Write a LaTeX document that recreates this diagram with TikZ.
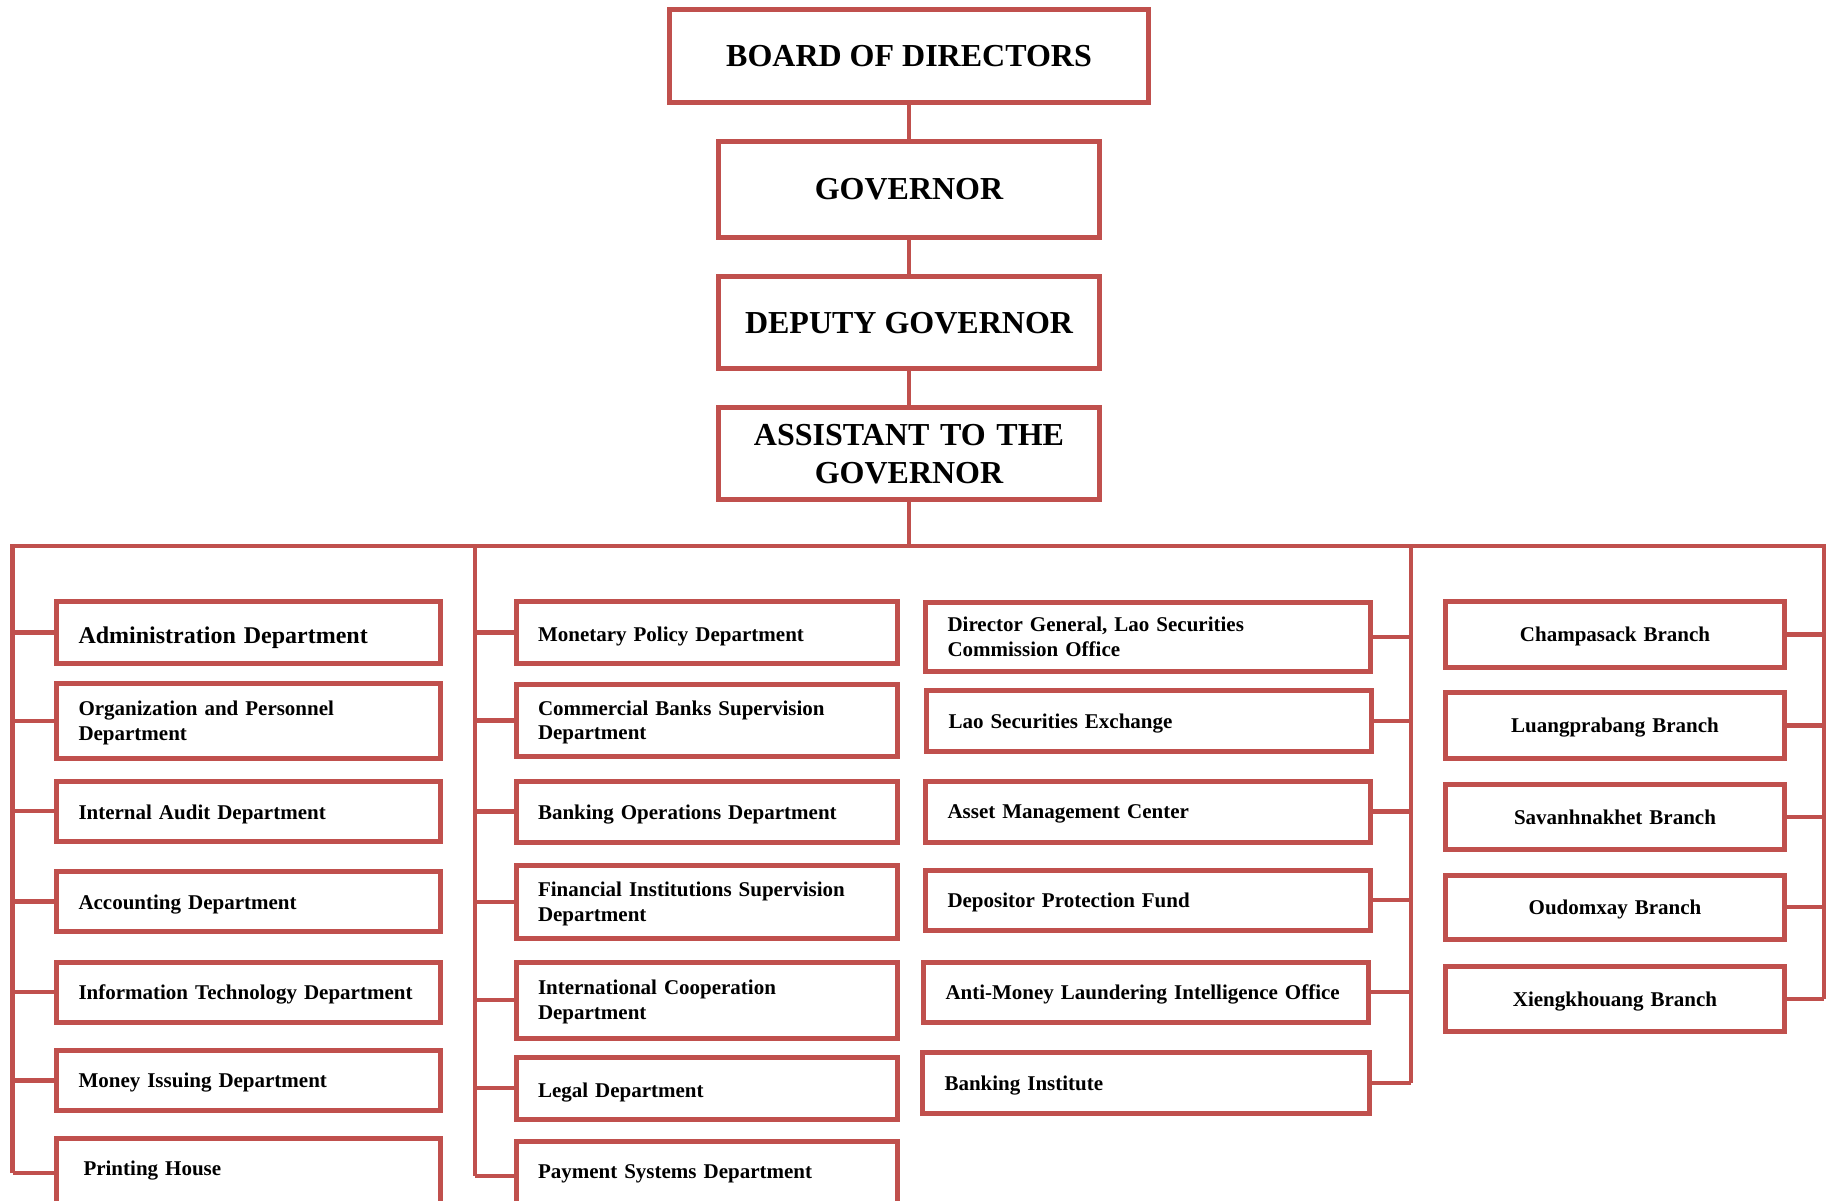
\documentclass[tikz,border=0pt]{standalone}
\usepackage{fontspec}
\setmainfont{Liberation Serif}
\definecolor{bred}{RGB}{192,80,77}
\begin{document}
\begin{tikzpicture}[x=1pt,y=-1pt,
  conn/.style={draw=bred,line width=4.5pt,line join=miter},
  hbox/.style={draw=bred,line width=5pt,fill=white,inner xsep=10pt,inner ysep=0pt,
    align=center,font=\bfseries\fontsize{32}{38}\selectfont,text height=21pt,text depth=0pt},
  lbox/.style={draw=bred,line width=5pt,fill=white,inner xsep=22pt,inner ysep=0pt,
    align=left,font=\bfseries\fontsize{21}{24.5}\selectfont,text height=14pt,text depth=0pt},
  two/.style={text depth=24.5pt},
  cbox/.style={lbox,align=center}
]
\useasboundingbox (0,0) rectangle (1833,1201);
\clip (0,0) rectangle (1833,1201);
\fill[white] (0,0) rectangle (1833,1201);

% top chain
\node[hbox,minimum width=479pt,minimum height=93pt] (board) at (909,56) {BOARD OF DIRECTORS};
\node[hbox,minimum width=381pt,minimum height=96pt] (gov) at (909,189.5) {GOVERNOR};
\node[hbox,minimum width=381pt,minimum height=92pt] (dep) at (909,322.5) {DEPUTY GOVERNOR};
\node[hbox,minimum width=381pt,minimum height=92pt,text width=361pt,text depth=38pt] (asst) at (909,453.5) {ASSISTANT TO THE\\GOVERNOR};

\coordinate (busL) at (12.5,546);
\coordinate (busM) at (909,546);
\coordinate (busR) at (1824,546);
\coordinate (c2) at (475,546);
\coordinate (c3) at (1411,546);

% column 1
\node[lbox,minimum width=384pt,minimum height=62pt,text width=340pt,
  font=\bfseries\fontsize{24}{28}\selectfont,text height=22pt] (admin) at (248.5,632.5) {Administration Department};
\node[lbox,two,minimum width=384pt,minimum height=75pt,text width=340pt] (org) at (248.5,721) {Organization and Personnel\\Department};
\node[lbox,minimum width=384pt,minimum height=60pt,text width=340pt,text height=16pt] (audit) at (248.5,811) {Internal Audit Department};
\node[lbox,minimum width=384pt,minimum height=60pt,text width=340pt,text height=16pt] (acct) at (248.5,901.5) {Accounting Department};
\node[lbox,minimum width=384pt,minimum height=60pt,text width=340pt] (it) at (248.5,992) {Information Technology Department};
\node[lbox,minimum width=384pt,minimum height=60pt,text width=340pt] (money) at (248.5,1080.5) {Money Issuing Department};
\node[lbox,minimum width=384pt,minimum height=70pt,text width=340pt,text depth=10pt] (print) at (248.5,1173) {\hspace*{5pt}Printing House};

% column 2
\node[lbox,minimum width=381pt,minimum height=62pt,text width=337pt,text height=17pt] (mon) at (706.5,632.5) {Monetary Policy Department};
\node[lbox,two,minimum width=381pt,minimum height=72pt,text width=337pt] (cbs) at (706.5,720.5) {Commercial Banks Supervision\\Department};
\node[lbox,minimum width=381pt,minimum height=61pt,text width=337pt,text height=16pt] (bops) at (706.5,811.5) {Banking Operations Department};
\node[lbox,two,minimum width=381pt,minimum height=73pt,text width=337pt] (fis) at (706.5,902) {Financial Institutions Supervision\\Department};
\node[lbox,two,minimum width=381pt,minimum height=76pt,text width=337pt] (intl) at (706.5,1000) {International Cooperation\\Department};
\node[lbox,minimum width=381pt,minimum height=62pt,text width=337pt,text height=18pt] (legal) at (706.5,1088) {Legal Department};
\node[lbox,minimum width=381pt,minimum height=69pt,text width=337pt,text depth=10pt] (pay) at (706.5,1176) {Payment Systems Department};

% column 3
\node[lbox,two,minimum width=445pt,minimum height=69pt,text width=401pt] (dg) at (1148,637) {Director General, Lao Securities\\Commission Office};
\node[lbox,minimum width=445pt,minimum height=61pt,text width=401pt] (lsx) at (1149,721) {Lao Securities Exchange};
\node[lbox,minimum width=445pt,minimum height=61pt,text width=401pt] (amc) at (1148,811.5) {Asset Management Center};
\node[lbox,minimum width=445pt,minimum height=60pt,text width=401pt] (dpf) at (1148,900) {Depositor Protection Fund};
\node[lbox,minimum width=445pt,minimum height=60pt,text width=401pt] (aml) at (1146,992) {Anti-Money Laundering Intelligence Office};
\node[lbox,minimum width=447pt,minimum height=61pt,text width=403pt] (bi) at (1146,1083) {Banking Institute};

% column 4
\node[cbox,minimum width=339pt,minimum height=66pt,text width=295pt] (champ) at (1615,634.5) {Champasack Branch};
\node[cbox,minimum width=339pt,minimum height=66pt,text width=295pt] (luang) at (1615,725.5) {Luangprabang Branch};
\node[cbox,minimum width=339pt,minimum height=65pt,text width=295pt] (savan) at (1615,817) {Savanhnakhet Branch};
\node[cbox,minimum width=339pt,minimum height=64pt,text width=295pt] (oudom) at (1615,907) {Oudomxay Branch};
\node[cbox,minimum width=339pt,minimum height=65pt,text width=295pt] (xieng) at (1615,999) {Xiengkhouang Branch};

% top connectors
\draw[conn] (board.south) -- (gov.north);
\draw[conn] (gov.south) -- (dep.north);
\draw[conn] (dep.south) -- (asst.north);
\draw[conn] (asst.south) -- (busM);

% bus and outer verticals
\draw[conn] (print.west -| busL) -- (busL) -- (busR) -- (xieng.east -| busR);
\draw[conn] (c2) -- (pay.west -| c2);
\draw[conn] (c3) -- (bi.east -| c3);

% column 1 connectors
\foreach \n in {admin,org,audit,acct,it,money,print}
  \draw[conn] (\n.west -| busL) -- (\n.west);
% column 2 connectors
\foreach \n in {mon,cbs,bops,fis,intl,legal,pay}
  \draw[conn] (\n.west -| c2) -- (\n.west);
% column 3 connectors
\foreach \n in {dg,lsx,amc,dpf,aml,bi}
  \draw[conn] (\n.east) -- (\n.east -| c3);
% column 4 connectors
\foreach \n in {champ,luang,savan,oudom,xieng}
  \draw[conn] (\n.east) -- (\n.east -| busR);
\end{tikzpicture}
\end{document}
